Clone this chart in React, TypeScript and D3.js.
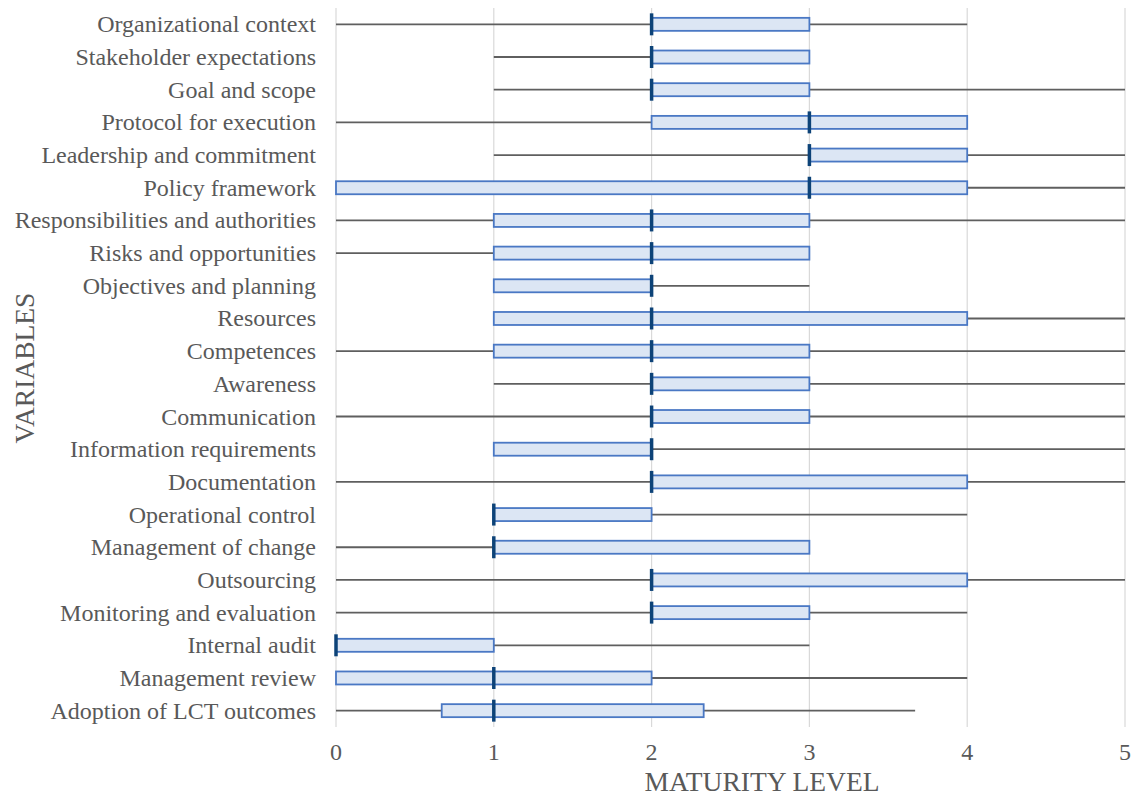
import React, { useEffect, useRef } from 'react';
import * as d3 from 'd3';

// variables, top to bottom
const variables = [
  'Organizational context', 'Stakeholder expectations', 'Goal and scope',
  'Protocol for execution', 'Leadership and commitment', 'Policy framework',
  'Responsibilities and authorities', 'Risks and opportunities ', 'Objectives and planning',
  'Resources', 'Competences', 'Awareness', 'Communication', 'Information requirements',
  'Documentation', 'Operational control', 'Management of change', 'Outsourcing',
  'Monitoring and evaluation', 'Internal audit', 'Management review', 'Adoption of LCT outcomes',
];

// five-number summaries per variable
const minValues = [0, 1, 1, 0, 1, 0, 0, 0, 1, 1, 0, 1, 0, 1, 0, 1, 0, 0, 0, 0, 0, 0];
const q1Values = [2, 2, 2, 2, 3, 0, 1, 1, 1, 1, 1, 2, 2, 1, 2, 1, 1, 2, 2, 0, 0, 0.67];
const medianValues = [2, 2, 2, 3, 3, 3, 2, 2, 2, 2, 2, 2, 2, 2, 2, 1, 1, 2, 2, 0, 1, 1];
const q3Values = [3, 3, 3, 4, 4, 4, 3, 3, 2, 4, 3, 3, 3, 2, 4, 2, 3, 4, 3, 1, 2, 2.33];
const maxValues = [4, 3, 5, 4, 5, 5, 5, 3, 3, 5, 5, 5, 5, 5, 5, 4, 3, 5, 4, 3, 4, 3.67];

const xTicks = [0, 1, 2, 3, 4, 5];

const App = () => {
  const svgRef = useRef<SVGSVGElement>(null);

  useEffect(() => {
    const width = 1135;
    const height = 796;
    const font = '"Liberation Serif", "Times New Roman", serif';

    const svg = d3.select(svgRef.current);
    svg.selectAll('*').remove();
    svg.attr('width', width).attr('height', height);

    const x = d3.scaleLinear().domain([0, 5]).range([336, 1125]);
    const y = d3.scaleBand().domain(variables).range([8, 727]).padding(0);
    const mid = (v: string) => (y(v) as number) + y.bandwidth() / 2;

    // vertical gridlines
    svg.append('g')
      .selectAll('line')
      .data(xTicks)
      .enter()
      .append('line')
      .attr('x1', d => x(d))
      .attr('x2', d => x(d))
      .attr('y1', 8)
      .attr('y2', 727)
      .attr('stroke', '#d9d9d9')
      .attr('stroke-width', 1.2);

    const rows = variables.map((v, i) => ({
      v,
      min: minValues[i],
      q1: q1Values[i],
      med: medianValues[i],
      q3: q3Values[i],
      max: maxValues[i],
    }));

    const g = svg.append('g');

    // whiskers
    g.selectAll('.whisker')
      .data(rows)
      .enter()
      .append('line')
      .attr('x1', d => x(d.min))
      .attr('x2', d => x(d.max))
      .attr('y1', d => mid(d.v))
      .attr('y2', d => mid(d.v))
      .attr('stroke', '#5f5f5f')
      .attr('stroke-width', 1.8);

    // boxes
    const boxH = 13;
    g.selectAll('.box')
      .data(rows.filter(d => d.q3 > d.q1))
      .enter()
      .append('rect')
      .attr('x', d => x(d.q1))
      .attr('width', d => x(d.q3) - x(d.q1))
      .attr('y', d => mid(d.v) - boxH / 2)
      .attr('height', boxH)
      .attr('fill', '#dce6f4')
      .attr('stroke', '#4a78c4')
      .attr('stroke-width', 1.8);

    // medians
    g.selectAll('.median')
      .data(rows)
      .enter()
      .append('line')
      .attr('x1', d => x(d.med))
      .attr('x2', d => x(d.med))
      .attr('y1', d => mid(d.v) - 11)
      .attr('y2', d => mid(d.v) + 11)
      .attr('stroke', '#0d4378')
      .attr('stroke-width', 3.5);

    // category labels
    svg.append('g')
      .selectAll('text')
      .data(variables)
      .enter()
      .append('text')
      .attr('x', 316)
      .attr('y', d => mid(d))
      .attr('text-anchor', 'end')
      .attr('dominant-baseline', 'central')
      .attr('font-family', font)
      .attr('font-size', '24px')
      .attr('fill', '#595959')
      .text(d => d);

    // x tick labels
    svg.append('g')
      .selectAll('text')
      .data(xTicks)
      .enter()
      .append('text')
      .attr('x', d => x(d))
      .attr('y', 752)
      .attr('text-anchor', 'middle')
      .attr('dominant-baseline', 'central')
      .attr('font-family', font)
      .attr('font-size', '24px')
      .attr('fill', '#595959')
      .text(d => d);

    // axis titles
    svg.append('text')
      .attr('x', 762)
      .attr('y', 781)
      .attr('text-anchor', 'middle')
      .attr('dominant-baseline', 'central')
      .attr('font-family', font)
      .attr('font-size', '27.5px')
      .attr('fill', '#595959')
      .text('MATURITY LEVEL');

    svg.append('text')
      .attr('transform', 'translate(24, 368) rotate(-90)')
      .attr('text-anchor', 'middle')
      .attr('dominant-baseline', 'central')
      .attr('font-family', font)
      .attr('font-size', '27.5px')
      .attr('fill', '#595959')
      .text('VARIABLES');
  }, []);

  return (
    <svg ref={svgRef} style={{ position: 'absolute', left: 0, top: 0, display: 'block', background: '#fff' }} />
  );
};

export default App;
